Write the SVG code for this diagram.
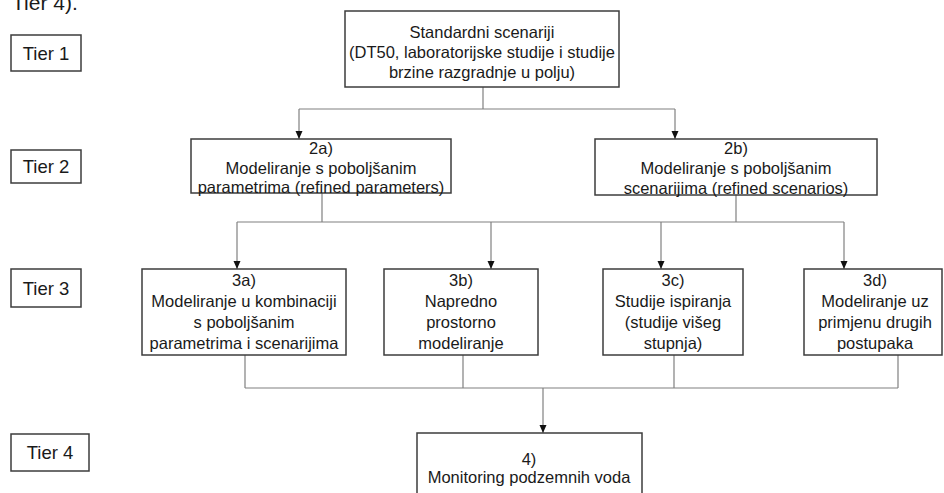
<svg xmlns="http://www.w3.org/2000/svg" width="944" height="493" viewBox="0 0 944 493">
<style>
  .box { fill: #ffffff; stroke: #3c3c3c; stroke-width: 1.5; }
  .t { font-family: "Liberation Sans", Arial, sans-serif; font-size: 16.5px; fill: #1a1a1a; text-anchor: middle; }
  .tier { font-family: "Liberation Sans", Arial, sans-serif; font-size: 18.5px; fill: #1a1a1a; text-anchor: middle; }
  .conn { fill: none; stroke: #808080; stroke-width: 1.2; }
</style>
<defs>
  <marker id="arr" markerUnits="userSpaceOnUse" markerWidth="8" markerHeight="8" viewBox="0 0 8 8" refX="8" refY="4" orient="auto">
    <path d="M0,0.5 L8,4 L0,7.5 Z" fill="#111111"/>
  </marker>
</defs>
<rect width="944" height="493" fill="#ffffff"/>
<text x="12" y="10" font-family="Liberation Sans, Arial, sans-serif" font-size="21" fill="#1a1a1a">Tier 4).</text>

<g id="tier1"><rect class="box" x="11" y="35" width="70" height="36"/><text class="tier" x="46" y="60">Tier 1</text></g>
<g id="tier2"><rect class="box" x="11" y="150" width="70" height="33"/><text class="tier" x="46" y="173">Tier 2</text></g>
<g id="tier3"><rect class="box" x="11" y="269" width="70" height="38"/><text class="tier" x="46" y="295">Tier 3</text></g>
<g id="tier4"><rect class="box" x="11" y="434" width="78" height="37"/><text class="tier" x="50" y="459">Tier 4</text></g>

<g id="connectors">
  <path class="conn" d="M483,87 V109 M299,109 H675"/>
  <path class="conn" d="M299,109 V139" marker-end="url(#arr)"/>
  <path class="conn" d="M675,109 V139" marker-end="url(#arr)"/>
  <path class="conn" d="M322,193 V222 M736,195 V222 M237,222 H844"/>
  <path class="conn" d="M237,222 V269" marker-end="url(#arr)"/>
  <path class="conn" d="M491,222 V269" marker-end="url(#arr)"/>
  <path class="conn" d="M661,222 V269" marker-end="url(#arr)"/>
  <path class="conn" d="M844,222 V269" marker-end="url(#arr)"/>
  <path class="conn" d="M245,355 V388 M463,355 V388 M674,355 V388 M898,355 V388 M245,388 H898"/>
  <path class="conn" d="M543,388 V433" marker-end="url(#arr)"/>
</g>

<g id="n1"><rect class="box" x="345" y="11" width="274" height="76"/>
  <text class="t" x="482" y="38">Standardni scenariji</text>
  <text class="t" x="482" y="58">(DT50, laboratorijske studije i studije</text>
  <text class="t" x="482" y="78">brzine razgradnje u polju)</text>
</g>
<g id="n2a"><rect class="box" x="191" y="139" width="260" height="54"/>
  <text class="t" x="321" y="154">2a)</text>
  <text class="t" x="321" y="174">Modeliranje s poboljšanim</text>
  <text class="t" x="321" y="193">parametrima (refined parameters)</text>
</g>
<g id="n2b"><rect class="box" x="595" y="139" width="282" height="56"/>
  <text class="t" x="736" y="154">2b)</text>
  <text class="t" x="736" y="174">Modeliranje s poboljšanim</text>
  <text class="t" x="736" y="194">scenarijima (refined scenarios)</text>
</g>
<g id="n3a"><rect class="box" x="142" y="269" width="204" height="86"/>
  <text class="t" x="244" y="286">3a)</text>
  <text class="t" x="244" y="307">Modeliranje u kombinaciji</text>
  <text class="t" x="244" y="328">s poboljšanim</text>
  <text class="t" x="244" y="349">parametrima i scenarijima</text>
</g>
<g id="n3b"><rect class="box" x="384" y="269" width="154" height="86"/>
  <text class="t" x="461" y="286">3b)</text>
  <text class="t" x="461" y="307">Napredno</text>
  <text class="t" x="461" y="328">prostorno</text>
  <text class="t" x="461" y="349">modeliranje</text>
</g>
<g id="n3c"><rect class="box" x="603" y="269" width="140" height="86"/>
  <text class="t" x="673" y="286">3c)</text>
  <text class="t" x="673" y="307">Studije ispiranja</text>
  <text class="t" x="673" y="328">(studije višeg</text>
  <text class="t" x="673" y="349">stupnja)</text>
</g>
<g id="n3d"><rect class="box" x="804" y="269" width="138" height="86"/>
  <text class="t" x="875" y="286">3d)</text>
  <text class="t" x="875" y="307">Modeliranje uz</text>
  <text class="t" x="875" y="328">primjenu drugih</text>
  <text class="t" x="875" y="349">postupaka</text>
</g>
<g id="n4"><rect class="box" x="417" y="433" width="225" height="70"/>
  <text class="t" x="529" y="465">4)</text>
  <text class="t" x="529" y="483">Monitoring podzemnih voda</text>
</g>
</svg>
